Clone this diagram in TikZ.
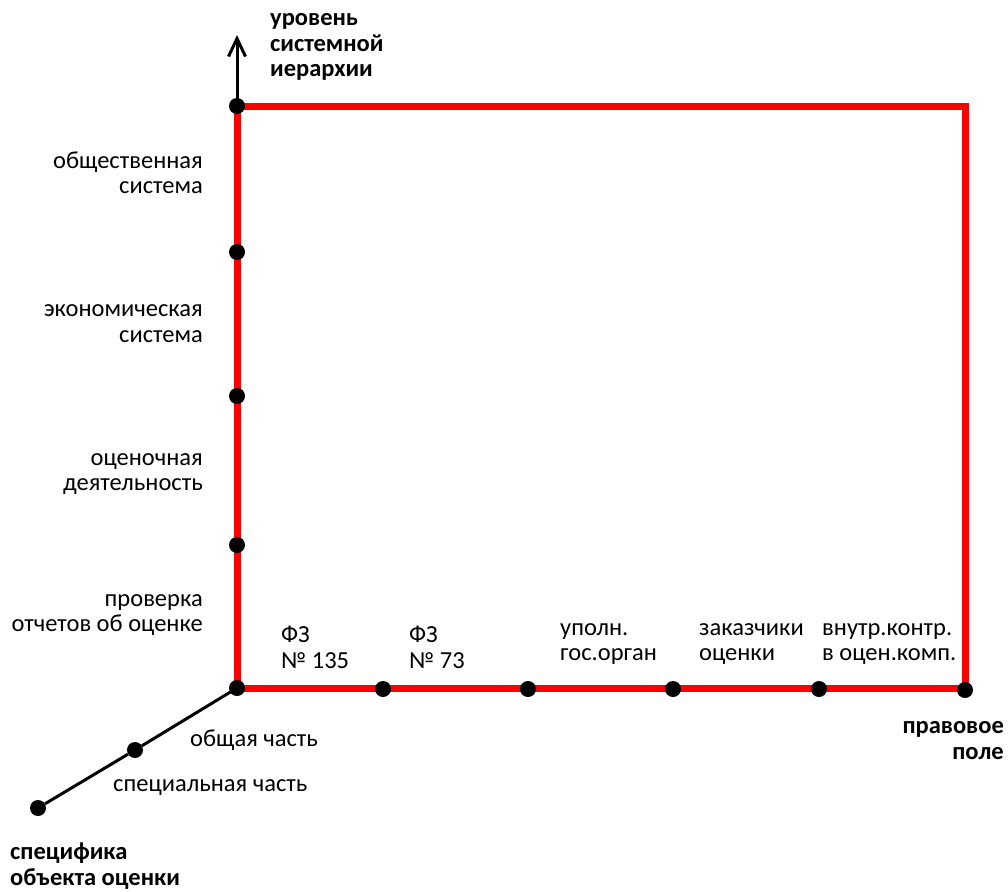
\documentclass[tikz,border=0pt]{standalone}
\usepackage{fontspec}
\setmainfont{Carlito}
\usetikzlibrary{arrows.meta}
\begin{document}
\begin{tikzpicture}[x=1pt,y=-1pt,
  redline/.style={draw={rgb,255:red,255;green,0;blue,0},line width=7pt,line cap=rect},
  blackline/.style={draw=black,line width=3pt},
  pt/.style={circle,fill=black,inner sep=0pt,minimum size=16pt},
  lbl/.style={inner sep=0pt,font=\fontsize{24.5}{25.5}\selectfont},
  lblb/.style={lbl,font=\fontsize{24.5}{25.5}\selectfont\bfseries}]
\useasboundingbox (0,0) rectangle (1008,891);
% coordinates
\coordinate (O) at (237,688);
\coordinate (TL) at (237,106);
\coordinate (TR) at (965,106);
\coordinate (BR) at (965,688);
\coordinate (top) at (237,35);
% axes
\draw[blackline,-{Straight Barb[length=18pt,width=17pt,line width=3pt]}] (TL) -- (top);
\draw[redline] (O) -- (TL) -- (TR) -- (BR) -- cycle;
\node[pt] (d0) at (O) {};
\node[pt] (v1) at (237,106) {};
\node[pt] (v2) at (237,252) {};
\node[pt] (v3) at (237,396) {};
\node[pt] (v4) at (237,545) {};
\node[pt] (h1) at (383,689) {};
\node[pt] (h2) at (528,689) {};
\node[pt] (h3) at (673,689) {};
\node[pt] (h4) at (819,689) {};
\node[pt] (h5) at (965,690) {};
\node[pt] (s1) at (135,750) {};
\node[pt] (s2) at (38,808) {};
\draw[blackline] (O) -- (s1) -- (s2);
% labels
\node[lblb,align=left,anchor=west] (ly) at (270,47) {уровень\\системной\\иерархии};
\node[lbl,align=right,anchor=east] (l1) at (203,172.5) {общественная\\система};
\node[lbl,align=right,anchor=east] (l2) at (203,323.5) {экономическая\\система};
\node[lbl,align=right,anchor=east] (l3) at (203,474) {оценочная\\деятельность};
\node[lbl,align=right,anchor=east] (l4) at (203,615) {проверка\\отчетов об оценке};
\node[lbl,align=left,anchor=west] (b1) at (281,647.5) {ФЗ\\№ 135};
\node[lbl,align=left,anchor=west] (b2) at (409,647.5) {ФЗ\\№ 73};
\node[lbl,align=left,anchor=west] (b3) at (560,644) {уполн.\\гос.орган};
\node[lbl,align=left,anchor=west] (b4) at (699,644) {заказчики\\оценки};
\node[lbl,align=left,anchor=west] (b5) at (822,644) {внутр.контр.\\в оцен.комп.};
\node[lblb,align=right,anchor=east] (lx) at (1004,740.5) {правовое\\поле};
\node[lbl,anchor=west] (z1) at (190,740) {общая часть};
\node[lbl,anchor=west] (z2) at (113,788) {специальная часть};
\node[lblb,align=left,anchor=west] (lz) at (10,866) {специфика\\объекта оценки};
\end{tikzpicture}
\end{document}
